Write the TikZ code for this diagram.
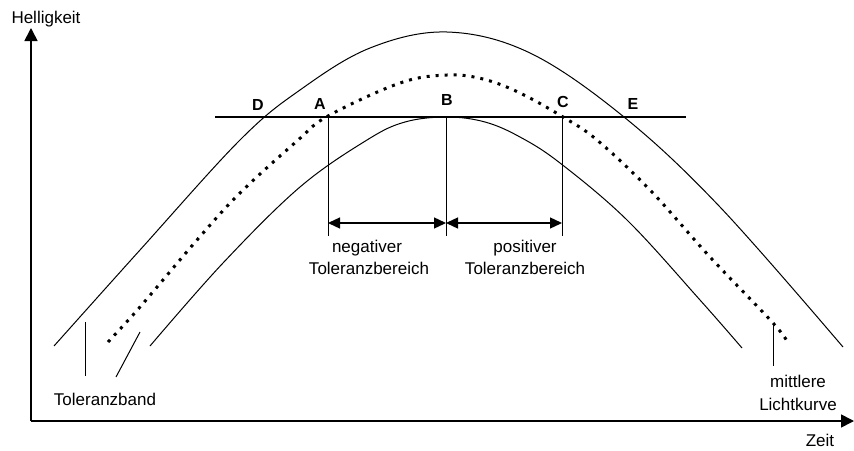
\documentclass[tikz,border=0pt]{standalone}
\usepackage{fontspec}
\setmainfont{Liberation Sans}
\usetikzlibrary{arrows.meta}
\begin{document}
\begin{tikzpicture}[x=1pt,y=-1pt,
  curve/.style={line width=1pt, line join=round},
  dotcurve/.style={line width=3pt, dash pattern=on 3pt off 6pt},
  axis/.style={line width=1.6pt, -{Triangle[length=13pt,width=13pt]}},
  dimarrow/.style={line width=1.3pt, {Triangle[length=12pt,width=11pt]}-{Triangle[length=12pt,width=11pt]}},
  lbl/.style={font=\fontsize{17}{19}\selectfont, inner sep=0pt, anchor=base},
  ptlbl/.style={font=\fontsize{16}{18}\selectfont\bfseries, inner sep=0pt, anchor=base},
  thinline/.style={line width=1pt}]
\useasboundingbox (0,0) rectangle (854,450);

% axes
\coordinate (O) at (31,421);
\coordinate (Ytip) at (31,28);
\coordinate (Xtip) at (854,421);
\draw[axis] (O) -- (Ytip);
\draw[axis] (O) -- (Xtip);

% outer tolerance curve
\draw[curve] plot[smooth, tension=0.6] coordinates {(54,346) (140,250) (240,140) (300,90) (370,48) (447,32) (530,53) (624,117) (720,207) (843,347)};
% inner tolerance curve
\draw[curve] plot[smooth, tension=0.6] coordinates {(150,346) (223,263) (300,187) (367,140) (405,122) (447,117) (485,122) (520,137) (560,163) (627,220) (700,300) (742,348)};
% mean light curve (dotted)
\draw[dotcurve] plot[smooth, tension=0.6] coordinates {(108,342) (140,307) (197,240) (240,193) (297,141) (328,116) (400,83) (447,75) (483,79) (520,93) (563,117) (597,140) (650,190) (710,257) (773,323) (788,343)};

% horizontal reference line
\coordinate (H1) at (215,117);
\coordinate (H2) at (686,117);
\draw[line width=1.3pt] (H1) -- (H2);

% vertical marks
\coordinate (At) at (328,117); \coordinate (Ab) at (328,236);
\coordinate (Bt) at (446,117); \coordinate (Bb) at (446,236);
\coordinate (Ct) at (562,117); \coordinate (Cb) at (562,236);
\draw[thinline] (At) -- (Ab);
\draw[thinline] (Bt) -- (Bb);
\draw[thinline] (Ct) -- (Cb);

% dimension arrows
\coordinate (Am) at (328,223);
\coordinate (Bm) at (446,223);
\coordinate (Cm) at (562,223);
\draw[dimarrow] (Am) -- (Bm);
\draw[dimarrow] (Bm) -- (Cm);

% point labels
\node[ptlbl] (D) at (258,110) {D};
\node[ptlbl] (A) at (320,109) {A};
\node[ptlbl] (B) at (447,105) {B};
\node[ptlbl] (C) at (563,107) {C};
\node[ptlbl] (E) at (633,109) {E};

% text labels
\node[lbl] (hell) at (46,23) {Helligkeit};
\node[lbl] (zeit) at (820,446) {Zeit};
\node[lbl] (neg1) at (367,252) {negativer};
\node[lbl] (neg2) at (369,274) {Toleranzbereich};
\node[lbl] (pos1) at (525,252) {positiver};
\node[lbl] (pos2) at (525,274) {Toleranzbereich};
\node[lbl] (band) at (105,405) {Toleranzband};
\node[lbl] (mitt1) at (798,387) {mittlere};
\node[lbl] (mitt2) at (798,410) {Lichtkurve};

% pointer lines
\coordinate (P1a) at (85,322); \coordinate (P1b) at (85,376);
\coordinate (P2a) at (140,332); \coordinate (P2b) at (116,377);
\coordinate (P3a) at (773,325); \coordinate (P3b) at (773,366);
\draw[thinline] (P1a) -- (P1b);
\draw[thinline] (P2a) -- (P2b);
\draw[thinline] (P3a) -- (P3b);
\end{tikzpicture}
\end{document}
